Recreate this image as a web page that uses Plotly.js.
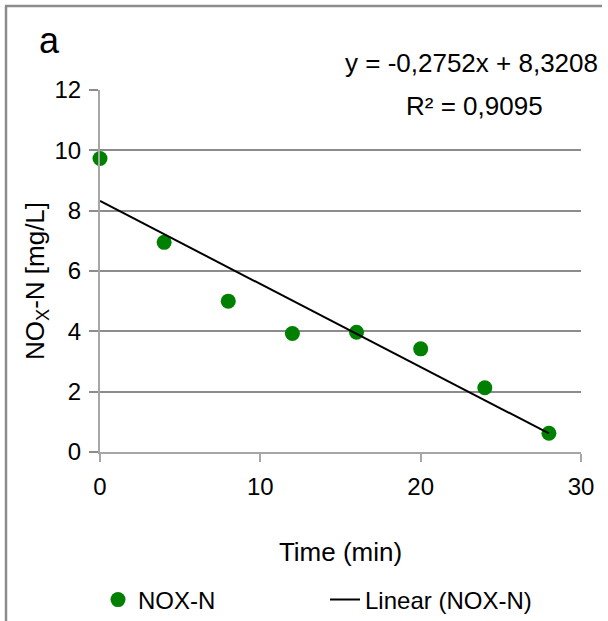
<!DOCTYPE html>
<html>
<head>
<meta charset="utf-8">
<script src="https://cdn.plot.ly/plotly-3.0.1.min.js"></script>
<style>
  html, body { margin: 0; padding: 0; background: #fff; }
  #chart { width: 608px; height: 621px; }
</style>
</head>
<body>
<div id="chart"></div>
<script>
// Measured NOx-N concentration over time
const timeMin = [0, 4, 8, 12, 16, 20, 24, 28];
const noxN = [9.73, 6.95, 5.0, 3.93, 3.97, 3.42, 2.13, 0.62];

// Linear fit reported on the chart
const fitSlope = -0.2752;
const fitIntercept = 8.3208;
const fitR2 = 0.9095;
const fitRange = [0, 28];

const xTicks = [0, 10, 20, 30];
const yTicks = [0, 2, 4, 6, 8, 10, 12];

const seriesName = 'NOX-N';
const trendName = 'Linear (NOX-N)';

const fmt = v => String(v).replace('.', ',');
const trendY = fitRange.map(x => fitIntercept + fitSlope * x);

const W = 608, H = 621;
const M = { l: 100, r: 27, t: 90, b: 169, autoexpand: false };
const pw = W - M.l - M.r, ph = H - M.t - M.b;
const px = v => (v - M.l) / pw;        // pixel -> paper x
const py = v => (H - M.b - v) / ph;    // pixel -> paper y

const font = 'Liberation Sans, Arial, sans-serif';
const gray = '#8c8c8c';

const data = [
  {
    type: 'scatter', mode: 'markers', name: seriesName,
    x: timeMin, y: noxN,
    marker: { color: '#008000', size: 15 },
    cliponaxis: false
  },
  {
    type: 'scatter', mode: 'lines', name: trendName,
    x: fitRange, y: trendY,
    line: { color: '#000', width: 2 }
  }
];

const layout = {
  width: W, height: H,
  margin: M,
  paper_bgcolor: '#fff', plot_bgcolor: '#fff',
  font: { family: font, size: 24, color: '#000' },
  showlegend: true,
  legend: {
    orientation: 'h', x: px(98), xanchor: 'left', y: py(600), yanchor: 'middle',
    font: { size: 24 }, itemwidth: 30, entrywidth: 182, entrywidthmode: 'pixels',
    bgcolor: 'rgba(0,0,0,0)', borderwidth: 0
  },
  xaxis: {
    range: [0, 30], tickvals: xTicks, ticktext: xTicks.map(String),
    showgrid: false, zeroline: false,
    showline: true, linecolor: '#a6a6a6', linewidth: 2,
    ticks: 'outside', ticklen: 8, tickwidth: 2, tickcolor: '#a6a6a6',
    tickfont: { size: 24 }, ticklabelstandoff: 4,
    title: { text: 'Time (min)', font: { size: 26 }, standoff: 44 },
    fixedrange: true
  },
  yaxis: {
    range: [0, 12], tickvals: yTicks, ticktext: yTicks.map(String),
    showgrid: true, gridcolor: gray, gridwidth: 2,
    zeroline: false,
    showline: true, linecolor: '#a6a6a6', linewidth: 2,
    ticks: 'outside', ticklen: 9, tickwidth: 2, tickcolor: gray,
    tickfont: { size: 24 }, ticklabelstandoff: 3,
    fixedrange: true
  },
  annotations: [
    { xref: 'paper', yref: 'paper', x: px(36), y: py(281), xanchor: 'center', yanchor: 'middle',
      text: 'NO<sub>X</sub>-N [mg/L]', textangle: -90, showarrow: false, font: { size: 26 } },
    { xref: 'paper', yref: 'paper', x: px(37), y: py(40), xanchor: 'left', yanchor: 'middle',
      text: 'a', showarrow: false, font: { size: 36 } },
    { xref: 'paper', yref: 'paper', x: px(600), y: py(63), xanchor: 'right', yanchor: 'middle',
      text: 'y = ' + fmt(fitSlope) + 'x + ' + fmt(fitIntercept), showarrow: false, font: { size: 26 } },
    { xref: 'paper', yref: 'paper', x: px(474), y: py(106), xanchor: 'center', yanchor: 'middle',
      text: 'R² = ' + fmt(fitR2), showarrow: false, font: { size: 26 } }
  ],
  shapes: [
    { type: 'line', xref: 'paper', yref: 'paper', x0: px(5), x1: px(602), y0: py(6), y1: py(6),
      line: { color: gray, width: 2.5 } },
    { type: 'line', xref: 'paper', yref: 'paper', x0: px(6), x1: px(6), y0: py(6), y1: py(621),
      line: { color: gray, width: 2.5 } }
  ]
};

Plotly.newPlot('chart', data, layout, { displayModeBar: false, staticPlot: true });
</script>
</body>
</html>
